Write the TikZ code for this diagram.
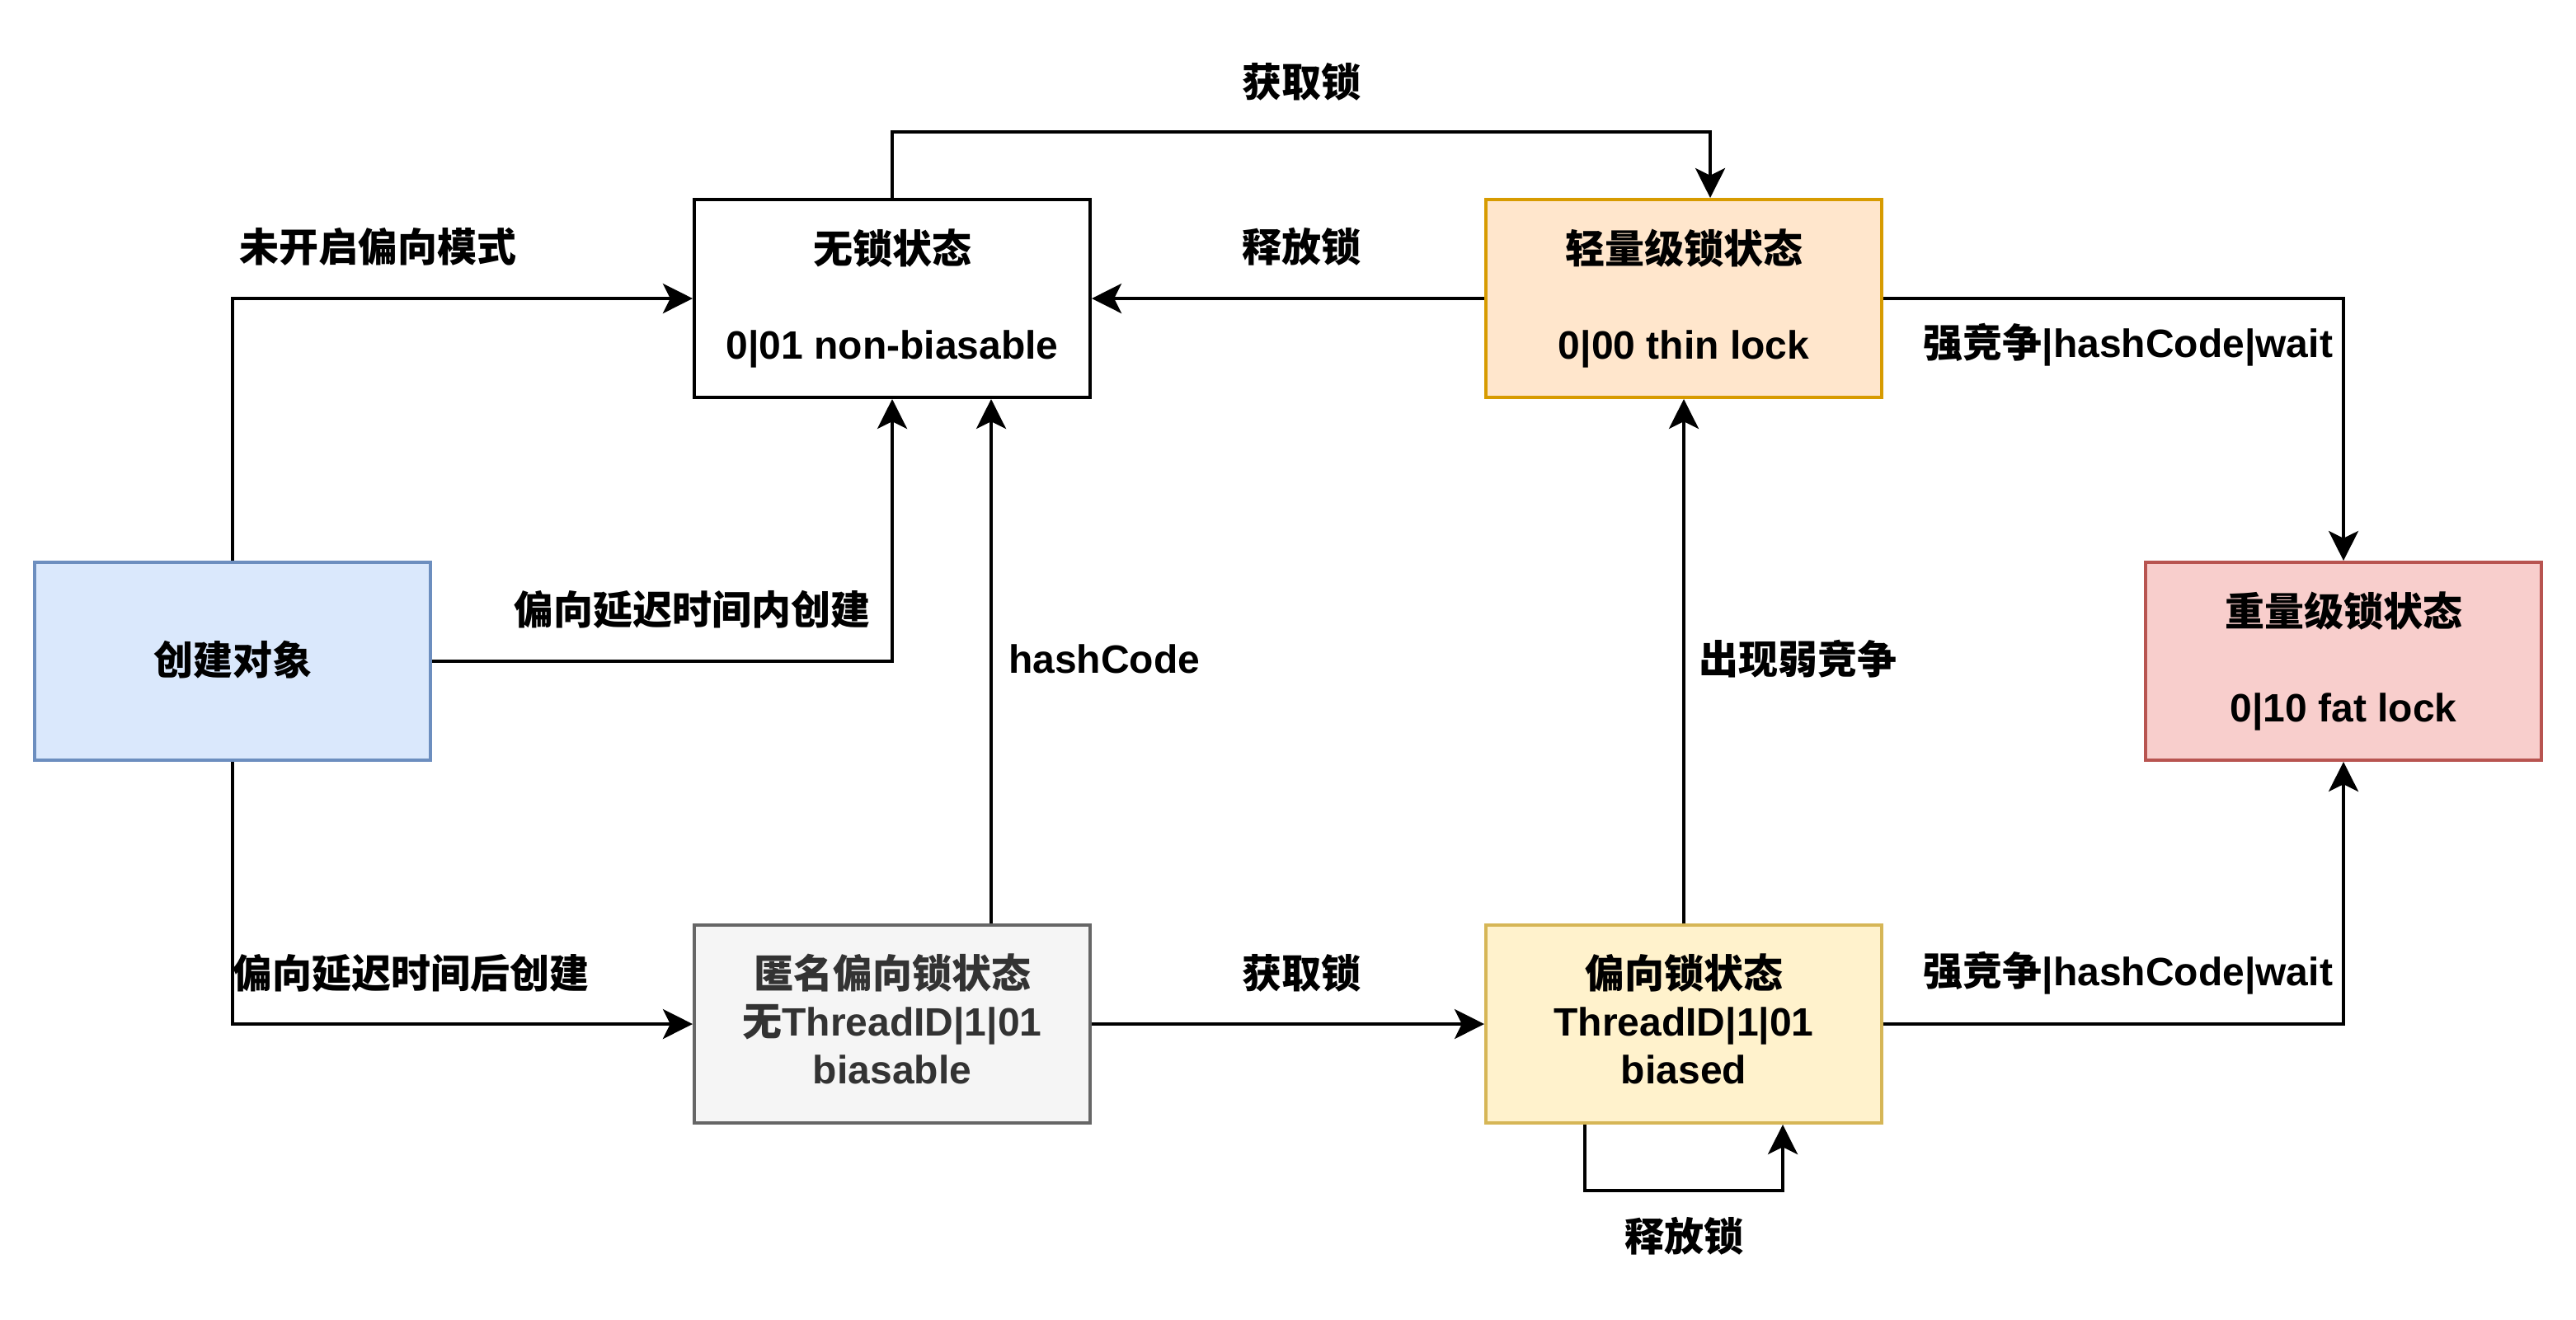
\documentclass[tikz,border=0pt]{standalone}
\usepackage{fontspec}
\setmainfont{Liberation Sans}
\newfontfamily\zhfont{Noto Sans CJK SC}
\usepackage{tikz}
\usetikzlibrary{positioning,arrows.meta}
\newcommand{\zh}[1]{{\zhfont #1}}
\newcommand{\lift}[1]{\rule[-#1]{0pt}{0pt}}

\definecolor{blueFill}{HTML}{DAE8FC}
\definecolor{blueLine}{HTML}{6C8EBF}
\definecolor{orangeFill}{HTML}{FFE6CC}
\definecolor{orangeLine}{HTML}{D79B00}
\definecolor{redFill}{HTML}{F8CECC}
\definecolor{redLine}{HTML}{B85450}
\definecolor{greyFill}{HTML}{F5F5F5}
\definecolor{greyLine}{HTML}{666666}
\definecolor{greyText}{HTML}{333333}
\definecolor{yellowFill}{HTML}{FFF2CC}
\definecolor{yellowLine}{HTML}{D6B656}

\tikzset{
  state/.style={draw,line width=1pt,minimum width=120pt,minimum height=60pt,inner sep=0pt,align=center,font=\bfseries\fontsize{12}{14.5}\selectfont},
  trans/.style={line width=1pt,-{Stealth[length=9pt,width=9pt,inset=2.2pt]}},
  lbl/.style={inner sep=0pt,font=\bfseries\fontsize{12}{14.5}\selectfont}
}

\begin{document}
\begin{tikzpicture}[x=1pt,y=-1pt]
  \useasboundingbox (0,0) rectangle (781,400);
  % states
  \node[state,fill=blueFill,draw=blueLine](create) at (70.5,200.5){\zh{创建对象}\lift{2pt}};
  \node[state,fill=white](free) at (270.5,90.5){\zh{无锁状态}\\[14.5pt]0|01 non-biasable};
  \node[state,fill=orangeFill,draw=orangeLine](thin) at (510.5,90.5){\zh{轻量级锁状态}\\[14.5pt]0|00 thin lock};
  \node[state,fill=redFill,draw=redLine](fat) at (710.5,200.5){\zh{重量级锁状态}\\[14.5pt]0|10 fat lock};
  \node[state,fill=greyFill,draw=greyLine,text=greyText](anon) at (270.5,310.5){\zh{匿名偏向锁状态}\\\zh{无}ThreadID|1|01\\biasable\lift{3pt}};
  \node[state,fill=yellowFill,draw=yellowLine](biased) at (510.5,310.5){\zh{偏向锁状态}\\ThreadID|1|01\\biased\lift{3pt}};

  % transitions
  \draw[trans] (create.north) |- (free.west);
  \draw[trans] (create.east) -| (free.south);
  \draw[trans] (create.south) |- (anon.west);
  \draw[trans] ([xshift=30pt]anon.north) -- ([xshift=30pt]free.south);
  \draw[trans] (free.north) |- ([xshift=8pt,yshift=20pt]thin.north) -- ([xshift=8pt]thin.north);
  \draw[trans] (thin.west) -- (free.east);
  \draw[trans] (anon.east) -- (biased.west);
  \draw[trans] (biased.north) -- (thin.south);
  \draw[trans] (thin.east) -| (fat.north);
  \draw[trans] (biased.east) -| (fat.south);
  \draw[trans] ([xshift=-30pt]biased.south) -- ([xshift=-30pt,yshift=-20pt]biased.south) -| ([xshift=30pt]biased.south);

  % labels
  \node[lbl](l1) at (394.6,24.9){\zh{获取锁}};
  \node[lbl](l2) at (394.6,74.7){\zh{释放锁}};
  \node[lbl](l3) at (114.6,74.7){\zh{未开启偏向模式}};
  \node[lbl](l4) at (209.8,184.9){\zh{偏向延迟时间内创建}};
  \node[lbl](l5) at (334.8,199.8){hashCode};
  \node[lbl](l6) at (124.6,295){\zh{偏向延迟时间后创建}};
  \node[lbl](l7) at (394.6,295){\zh{获取锁}};
  \node[lbl](l8) at (545.1,199.8){\zh{出现弱竞争}};
  \node[lbl](l9) at (645.2,104.6){\zh{强竞争}|hashCode|wait};
  \node[lbl](l10) at (645.2,295){\zh{强竞争}|hashCode|wait};
  \node[lbl](l11) at (510.5,374.7){\zh{释放锁}};
\end{tikzpicture}
\end{document}
